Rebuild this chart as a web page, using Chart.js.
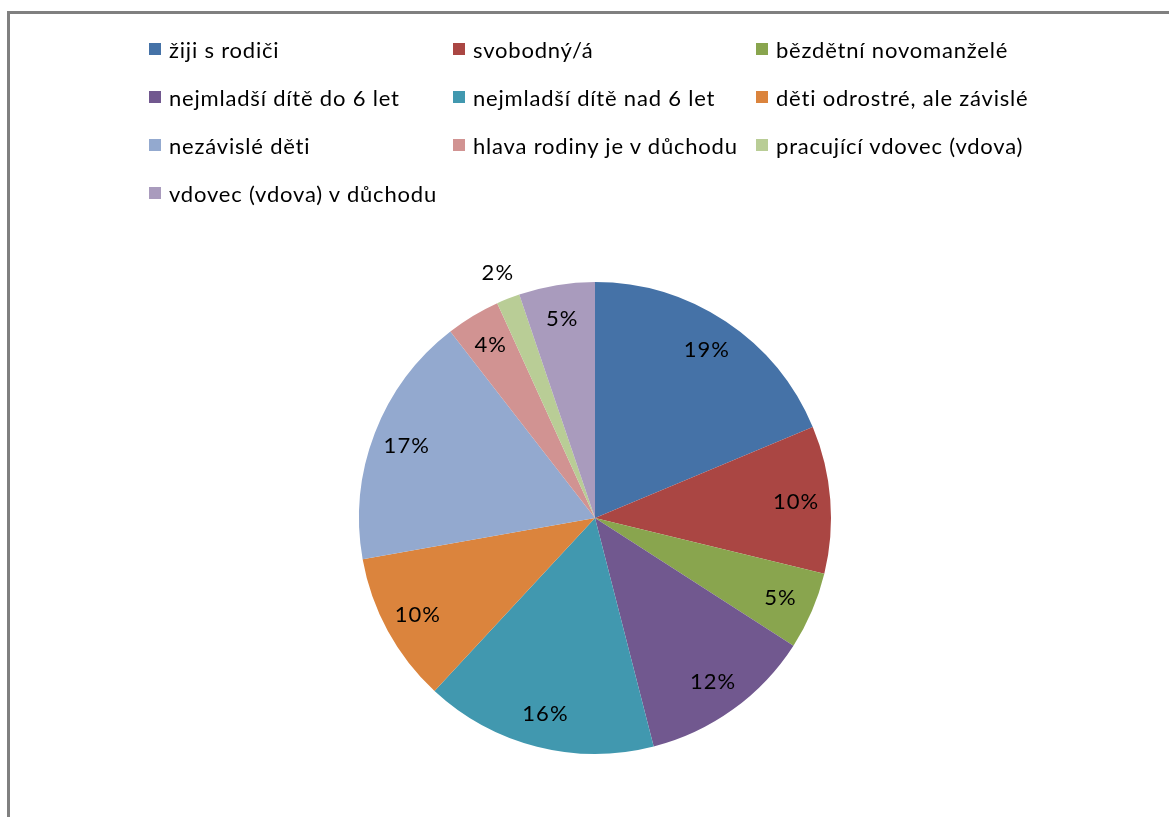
<!DOCTYPE html>
<html lang="cs">
<head>
<meta charset="utf-8">
<title>Typy domácností</title>
<script src="https://cdn.jsdelivr.net/npm/chart.js@4/dist/chart.umd.min.js"></script>
<style>
  body { margin: 0; background: #fff; }
  #wrap { position: relative; width: 1169px; height: 817px; overflow: hidden; }
  #frame { position: absolute; left: 7px; top: 11px; width: 1200px; height: 900px;
           border-left: 3px solid #808080; border-top: 3px solid #808080; }
  #pie { position: absolute; left: 0; top: 0; }
  #legend { position: absolute; left: 149px; top: 25px;
            display: grid; grid-template-columns: 304px 303px 300px;
            font-family: Lato, "Open Sans", sans-serif; font-size: 22px;
            letter-spacing: 0.8px; color: #000; }
  #legend .item { height: 48px; display: flex; align-items: center; white-space: nowrap; }
  #legend .box { width: 12px; height: 12px; margin-right: 8px; flex: none; }
</style>
</head>
<body>
<div id="wrap">
  <div id="frame"></div>
  <canvas id="pie" width="1169" height="817"></canvas>
  <div id="legend"></div>
</div>
<script>
const categories = [
  'žiji s rodiči',
  'svobodný/á',
  'bězdětní novomanželé',
  'nejmladší dítě do 6 let',
  'nejmladší dítě nad 6 let',
  'děti odrostré, ale závislé',
  'nezávislé děti',
  'hlava rodiny je v důchodu',
  'pracující vdovec (vdova)',
  'vdovec (vdova) v důchodu'
];
// shares (percent)
const shares = [18.7, 10.1, 5.3, 11.9, 15.9, 10.3, 17.3, 3.7, 1.6, 5.2];
const colors = ['#4572A7', '#AA4643', '#89A54E', '#71588F', '#4198AF',
                '#DB843D', '#93A9CF', '#D19392', '#B9CD96', '#A99BBD'];

// percent labels at the middle of each slice, small ones go outside
const sliceLabels = {
  id: 'sliceLabels',
  afterDatasetsDraw(chart) {
    const ctx = chart.ctx;
    const meta = chart.getDatasetMeta(0);
    const data = chart.data.datasets[0].data;
    const total = data.reduce((a, b) => a + b, 0);
    ctx.save();
    ctx.font = '22px Lato, "Open Sans", sans-serif';
    ctx.letterSpacing = '1px';
    ctx.fillStyle = '#000';
    ctx.textAlign = 'center';
    ctx.textBaseline = 'middle';
    meta.data.forEach((arc, i) => {
      const p = arc.getProps(['x', 'y', 'startAngle', 'endAngle', 'outerRadius'], true);
      const mid = (p.startAngle + p.endAngle) / 2;
      const pct = data[i] / total * 100;
      const r = pct < 2.5 ? p.outerRadius + 28 : p.outerRadius * 0.855;
      ctx.fillText(Math.round(pct) + '%', p.x + Math.cos(mid) * r, p.y + Math.sin(mid) * r);
    });
    ctx.restore();
  }
};

const chart = new Chart(document.getElementById('pie'), {
  type: 'pie',
  data: {
    labels: categories,
    datasets: [{
      data: shares,
      backgroundColor: colors,
      borderWidth: 0
    }]
  },
  options: {
    responsive: false,
    animation: false,
    layout: { padding: { top: 282, bottom: 63, left: 359, right: 338 } },
    plugins: {
      legend: { display: false },
      tooltip: { enabled: false }
    }
  },
  plugins: [sliceLabels]
});

// legend in three columns, like the original
const legend = document.getElementById('legend');
categories.forEach((name, i) => {
  const item = document.createElement('div');
  item.className = 'item';
  const box = document.createElement('span');
  box.className = 'box';
  box.style.background = colors[i];
  const txt = document.createElement('span');
  txt.textContent = name;
  item.appendChild(box);
  item.appendChild(txt);
  legend.appendChild(item);
});
</script>
</body>
</html>
